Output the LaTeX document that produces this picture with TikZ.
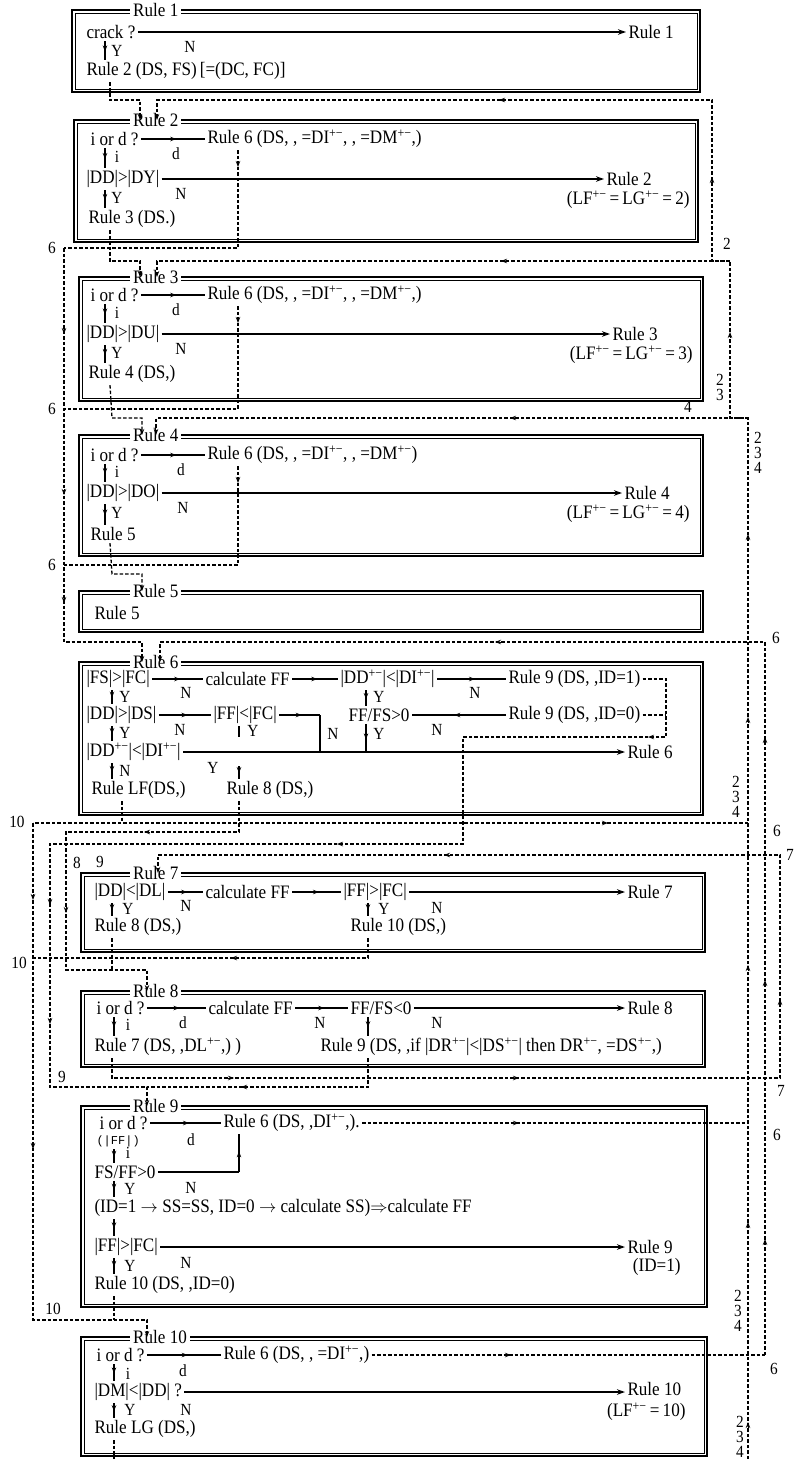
\documentclass[tikz,border=0pt]{standalone}
\usepackage{fontspec}
\setmainfont{Liberation Serif}[FakeStretch=0.9]
\newfontfamily\monof{Liberation Mono}
\usetikzlibrary{arrows.meta,decorations.markings}
\newcommand{\rfs}{\fontsize{19}{21}\selectfont}
\newcommand{\lfs}{\fontsize{17}{18}\selectfont}
\newcommand{\sfsz}{\fontsize{17}{18}\selectfont}
\newcommand{\spm}{\textsuperscript{+−}}
\tikzset{
 boxout/.style={line width=2.2pt},
 boxin/.style={line width=0.8pt},
 ttl/.style={anchor=west, fill=white, inner xsep=3pt, inner ysep=0pt, font=\rfs},
 txt/.style={anchor=west, inner sep=0pt, outer sep=2.5pt, font=\rfs},
 txte/.style={anchor=east, inner sep=0pt, outer sep=2.5pt, font=\rfs},
 lbl/.style={inner sep=0pt, font=\lfs},
 slbl/.style={inner sep=0pt, font=\sfsz},
 flow/.style={line width=1.4pt, -{Stealth[length=8pt,width=5.5pt]}},
 sline/.style={line width=1.3pt},
 mflow/.style={line width=1.3pt, postaction={decorate}, decoration={markings, mark=at position 0.55 with {\arrow{Stealth[length=6pt,width=4.5pt]}}}},
 dline/.style={line width=1.3pt, dash pattern=on 3.5pt off 2pt},
 dentry/.style={dline, -{Stealth[length=6pt,width=4.5pt]}},
 tip/.style={line width=1pt, -{Stealth[length=6pt,width=4.5pt]}},
}
\newcommand{\RuleBox}[6]{%
 \draw[boxout] (#2,#3) rectangle (#4,#5);
 \draw[boxin] ({#2+3},{#3+3}) rectangle ({#4-3},{#5-3});
 \node[ttl] (#1) at (130,#3) {#6};
}
\newcommand{\ArrL}[2]{\draw[tip] ({#1+3},#2) -- ({#1-3},#2);}
\newcommand{\ArrR}[2]{\draw[tip] ({#1-3},#2) -- ({#1+3},#2);}
\newcommand{\ArrU}[2]{\draw[tip] (#1,{#2+3}) -- (#1,{#2-3});}
\newcommand{\ArrD}[2]{\draw[tip] (#1,{#2-3}) -- (#1,{#2+3});}
\begin{document}
\begin{tikzpicture}[x=1pt,y=-1pt]
\useasboundingbox (0,0) rectangle (797,1459);
\fill[white] (0,0) rectangle (797,1459);
\coordinate (X1) at (105,0);
\coordinate (X2) at (112,0);
\coordinate (X3) at (366,0);
\coordinate (X4) at (238,0);
\coordinate (X5) at (110,0);
\coordinate (X6) at (122,0);
\coordinate (X7) at (239,0);
\coordinate (X8) at (114,0);
\coordinate (X9) at (368,0);

% ---------------- Box 1
\RuleBox{B1}{72}{10}{700}{92}{Rule 1}
\node[txt] (n1a) at (84,32) {crack ?};
\node[txt] (n1b) at (626,32) {Rule 1};
\node[txt] (n1c) at (84,71) {Rule 2 (DS, FS)\,[=(DC, FC)]};
\node[lbl] (l1N) at (190,47) {N};
\node[lbl] (l1Y) at (117,51) {Y};
\draw[flow] (n1a.east) -- (n1b.west);
\draw[mflow] (n1a.south -| X1) -- (n1c.north -| X1);

% ---------------- Box 2
\RuleBox{B2}{74}{120}{698}{242}{Rule 2}
\node[txt] (n2a) at (88,139) {i or d ?};
\node[txt] (n2b) at (205,139) {Rule 6 (DS, , =DI\spm, , =DM\spm,)};
\node[txt] (n2c) at (84,179) {|DD|>|DY|};
\node[txt] (n2d) at (604,179) {Rule 2};
\node[txte] (n2e) at (692,200) {(LF\spm\,=\,LG\spm\,=\,2)};
\node[txt] (n2f) at (86,219) {Rule 3 (DS.)};
\node[lbl] (l2d) at (176,154) {d};
\node[lbl] (l2i) at (117,157) {i};
\node[lbl] (l2N) at (181,194) {N};
\node[lbl] (l2Y) at (117,198) {Y};
\draw[mflow] (n2a.east) -- (n2b.west);
\draw[mflow] (n2a.south -| X1) -- (n2c.north -| X1);
\draw[flow] (n2c.east) -- (n2d.west);
\draw[mflow] (n2c.south -| X1) -- (n2f.north -| X1);

% ---------------- Box 3
\RuleBox{B3}{79}{277}{703}{401}{Rule 3}
\node[txt] (n3a) at (88,295) {i or d ?};
\node[txt] (n3b) at (205,295) {Rule 6 (DS, , =DI\spm, , =DM\spm,)};
\node[txt] (n3c) at (84,334) {|DD|>|DU|};
\node[txt] (n3d) at (610,334) {Rule 3};
\node[txte] (n3e) at (695,355) {(LF\spm\,=\,LG\spm\,=\,3)};
\node[txt] (n3f) at (86,374) {Rule 4 (DS,)};
\node[lbl] (l3d) at (176,310) {d};
\node[lbl] (l3i) at (117,313) {i};
\node[lbl] (l3N) at (181,349) {N};
\node[lbl] (l3Y) at (117,353) {Y};
\draw[mflow] (n3a.east) -- (n3b.west);
\draw[mflow] (n3a.south -| X1) -- (n3c.north -| X1);
\draw[flow] (n3c.east) -- (n3d.west);
\draw[mflow] (n3c.south -| X1) -- (n3f.north -| X1);

% ---------------- Box 4
\RuleBox{B4}{79}{435}{703}{556}{Rule 4}
\node[txt] (n4a) at (88,455) {i or d ?};
\node[txt] (n4b) at (205,455) {Rule 6 (DS, , =DI\spm, , =DM\spm)};
\node[txt] (n4c) at (84,493) {|DD|>|DO|};
\node[txt] (n4d) at (622,493) {Rule 4};
\node[txte] (n4e) at (692,514) {(LF\spm\,=\,LG\spm\,=\,4)};
\node[txt] (n4f) at (88,534) {Rule 5};
\node[lbl] (l4d) at (181,470) {d};
\node[lbl] (l4i) at (117,472) {i};
\node[lbl] (l4N) at (183,508) {N};
\node[lbl] (l4Y) at (117,513) {Y};
\draw[mflow] (n4a.east) -- (n4b.west);
\draw[mflow] (n4a.south -| X1) -- (n4c.north -| X1);
\draw[flow] (n4c.east) -- (n4d.west);
\draw[mflow] (n4c.south -| X1) -- (n4f.north -| X1);

% ---------------- Box 5
\RuleBox{B5}{79}{591}{703}{632}{Rule 5}
\node[txt] (n5a) at (92,613) {Rule 5};

% ---------------- Box 6
\RuleBox{B6}{79}{662}{703}{815}{Rule 6}
\node[txt] (n6a) at (84,679) {|FS|>|FC|};
\node[txt] (n6b) at (203,679) {calculate FF};
\node[txt] (n6c) at (338,679) {|DD\spm|<|DI\spm|};
\node[txt] (n6d) at (506,679) {Rule 9 (DS, ,ID=1)};
\node[txt] (n6e) at (84,715) {|DD|>|DS|};
\node[txt] (n6f) at (211,715) {|FF|<|FC|};
\node[txt] (n6g) at (346,715) {FF/FS>0};
\node[txt] (n6h) at (506,715) {Rule 9 (DS, ,ID=0)};
\node[txt] (n6j) at (84,752) {|DD\spm|<|DI\spm|};
\node[txt] (n6k) at (625,752) {Rule 6};
\node[txt] (n6l) at (89,790) {Rule LF(DS,)};
\node[txt] (n6m) at (224,790) {Rule 8 (DS,)};
\node[lbl] (l6N1) at (186,693) {N};
\node[lbl] (l6N2) at (475,693) {N};
\node[lbl] (l6Y1) at (125,697) {Y};
\node[lbl] (l6Y2) at (379,697) {Y};
\node[lbl] (l6N3) at (180,730) {N};
\node[lbl] (l6Y3) at (253,731) {Y};
\node[lbl] (l6N4) at (333,734) {N};
\node[lbl] (l6Y4) at (379,734) {Y};
\node[lbl] (l6N5) at (437,730) {N};
\node[lbl] (l6Y5) at (125,733) {Y};
\node[lbl] (l6Y6) at (213,768) {Y};
\node[lbl] (l6N6) at (125,771) {N};
\coordinate (J6a) at (320,715);
\coordinate (J6b) at (320,752);
\draw[mflow] (n6a.east) -- (n6b.west);
\draw[mflow] (n6b.east) -- (n6c.west);
\draw[mflow] (n6c.east) -- (n6d.west);
\draw[mflow] (n6e.east) -- (n6f.west);
\draw[mflow] (n6h.west) -- (n6g.east);
\draw[mflow] (n6f.east) -- (J6a);
\draw[sline] (J6a) -- (J6b);
\draw[mflow] (n6a.south -| X2) -- (n6e.north -| X2);
\draw[mflow] (n6e.south -| X2) -- (n6j.north -| X2);
\draw[mflow] (n6j.south -| X2) -- (n6l.north -| X2);
\draw[mflow] (n6c.south -| X3) -- (n6g.north -| X3);
\draw[mflow] (n6g.south -| X3) -- (n6j.east -| X3);
\draw[sline] (n6f.south -| X7) -- (239,737);
\draw[mflow] (239,766) -- (n6m.north -| X7);
\draw[flow] (n6j.east) -- (n6k.west);

% ---------------- Box 7
\RuleBox{B7}{81}{873}{705}{952}{Rule 7}
\node[txt] (n7a) at (92,892) {|DD|<|DL|};
\node[txt] (n7b) at (203,892) {calculate FF};
\node[txt] (n7c) at (341,892) {|FF|>|FC|};
\node[txt] (n7d) at (625,892) {Rule 7};
\node[txt] (n7e) at (92,927) {Rule 8 (DS,)};
\node[txt] (n7f) at (348,927) {Rule 10 (DS,)};
\node[lbl] (l7N1) at (186,906) {N};
\node[lbl] (l7N2) at (437,908) {N};
\node[lbl] (l7Y1) at (128,909) {Y};
\node[lbl] (l7Y2) at (384,909) {Y};
\draw[mflow] (n7a.east) -- (n7b.west);
\draw[mflow] (n7b.east) -- (n7c.west);
\draw[flow] (n7c.east) -- (n7d.west);
\draw[mflow] (n7a.south -| X2) -- (n7e.north -| X2);
\draw[mflow] (n7c.south -| X9) -- (n7f.north -| X9);

% ---------------- Box 8
\RuleBox{B8}{81}{991}{705}{1067}{Rule 8}
\node[txt] (n8a) at (94,1008) {i or d ?};
\node[txt] (n8b) at (206,1008) {calculate FF};
\node[txt] (n8c) at (348,1008) {FF/FS<0};
\node[txt] (n8d) at (625,1008) {Rule 8};
\node[txt] (n8e) at (92,1047) {Rule 7 (DS, ,DL\spm,) )};
\node[txt] (n8f) at (318,1047) {Rule 9 (DS, ,if |DR\spm|<|DS\spm| then DR\spm, =DS\spm,)};
\node[lbl] (l8d) at (183,1023) {d};
\node[lbl] (l8N1) at (320,1023) {N};
\node[lbl] (l8N2) at (437,1023) {N};
\node[lbl] (l8i) at (128,1025) {i};
\draw[mflow] (n8a.east) -- (n8b.west);
\draw[mflow] (n8b.east) -- (n8c.west);
\draw[flow] (n8c.east) -- (n8d.west);
\draw[mflow] (n8a.south -| X8) -- (n8e.north -| X8);
\draw[mflow] (n8c.south -| X9) -- (n8f.north -| X9);

% ---------------- Box 9
\RuleBox{B9}{81}{1106}{707}{1307}{Rule 9}
\node[txt] (n9a) at (97,1123) {i or d ?};
\node[txt] (n9b) at (221,1123) {Rule 6 (DS, ,DI\spm,).};
\node[txt, font=\monof\fontsize{12}{13}\selectfont] (n9g) at (94,1141) {(|FF|)};
\node[txt] (n9c) at (92,1172) {FS/FF>0};
\node[txt] (n9d) at (92,1208) {(ID=1 $\rightarrow$ SS=SS, ID=0 $\rightarrow$ calculate SS)$\Rightarrow$calculate FF};
\node[txt] (n9e) at (92,1247) {|FF|>|FC|};
\node[txt] (n9f) at (625,1247) {Rule 9};
\node[txte] (n9h) at (683,1267) {(ID=1)};
\node[txt] (n9i) at (92,1285) {Rule 10 (DS, ,ID=0)};
\node[lbl] (l9d) at (191,1140) {d};
\node[lbl] (l9i) at (128,1153) {i};
\node[lbl] (l9N1) at (191,1188) {N};
\node[lbl] (l9Y1) at (130,1189) {Y};
\node[lbl] (l9N2) at (186,1263) {N};
\node[lbl] (l9Y2) at (130,1266) {Y};
\coordinate (J9a) at (239,1172);
\draw[mflow] (n9a.east) -- (n9b.west);
\draw[mflow] (n9g.south -| X8) -- (n9c.north -| X8);
\draw[sline] (n9c.east) -- (J9a);
\draw[mflow] (J9a) -- (n9b.south -| X7);
\draw[mflow] (n9c.south -| X8) -- (n9d.north -| X8);
\draw[mflow] (n9d.south -| X8) -- (n9e.north -| X8);
\draw[flow] (n9e.east) -- (n9f.west);
\draw[mflow] (n9e.south -| X8) -- (n9i.north -| X8);

% ---------------- Box 10
\RuleBox{B10}{81}{1337}{707}{1456}{Rule 10}
\node[txt] (n10a) at (94,1355) {i or d ?};
\node[txt] (n10b) at (221,1355) {Rule 6 (DS, , =DI\spm,)};
\node[txt] (n10c) at (92,1392) {|DM|<|DD| ?};
\node[txt] (n10d) at (625,1389) {Rule 10};
\node[txte] (n10f) at (688,1412) {(LF\spm\,=\,10)};
\node[txt] (n10e) at (92,1429) {Rule LG (DS,)};
\node[lbl] (l10d) at (183,1371) {d};
\node[lbl] (l10i) at (128,1374) {i};
\node[lbl] (l10N) at (186,1410) {N};
\node[lbl] (l10Y) at (130,1410) {Y};
\draw[mflow] (n10a.east) -- (n10b.west);
\draw[mflow] (n10a.south -| X8) -- (n10c.north -| X8);
\draw[flow] (n10c.east) -- (n10d.west |- n10c.east);
\draw[mflow] (n10c.south -| X8) -- (n10e.north -| X8);

% ---------------- entry points
\coordinate (e2L) at (140,120); \coordinate (e2R) at (157,120);
\coordinate (e3L) at (140,277); \coordinate (e3R) at (157,277);
\coordinate (e4L) at (142,435); \coordinate (e4R) at (156,435);
\coordinate (e5L) at (142,591);
\coordinate (e6L) at (142,662); \coordinate (e6R) at (160,662);
\coordinate (e7) at (158,873);
\coordinate (e8) at (147,991);
\coordinate (e9) at (147,1106);
\coordinate (e10) at (147,1337);
\coordinate (V4end) at (748,1459);
\coordinate (V6end) at (765,1355);
\coordinate (LGend) at (114,1459);

% ---------------- forward dashed connectors
\draw[dentry] (n1c.south -| X5) -- (110,100) -- (140,100) -- (e2L);
\draw[dentry] (n2f.south -| X5) -- (110,261) -- (140,261) -- (e3L);
\draw[dentry] (n3f.south -| X5) -- (112,418) -- (142,418) -- (e4L);
\draw[dentry] (n4f.south -| X5) -- (112,574) -- (142,574) -- (e5L);

% ---------------- right loops 2,3,4
\draw[dentry] (730,261) -- (712,261) -- (712,100) -- (157,100) -- (e2R);
\draw[dentry] (748,418) -- (730,418) -- (730,261) -- (157,261) -- (e3R);
\draw[dentry] (V4end) -- (748,418) -- (156,418) -- (e4R);
\ArrU{712}{180} \ArrL{502}{100}
\ArrU{730}{335} \ArrL{504}{261}
\ArrL{513}{418}
\ArrU{748}{537} \ArrU{748}{720} \ArrU{748}{968} \ArrU{748}{1225} \ArrU{748}{1425}

% ---------------- left loop 6
\draw[dline] (n2b.south -| X4) -- (238,248) -- (64,248);
\draw[dline] (n3b.south -| X4) -- (238,409) -- (64,409);
\draw[dline] (n4b.south -| X4) -- (238,565) -- (64,565);
\draw[dentry] (64,248) -- (64,642) -- (142,642) -- (e6L);
\ArrD{238}{164} \ArrD{238}{320} \ArrD{238}{480}
\ArrD{64}{331} \ArrD{64}{492} \ArrD{64}{600}

% ---------------- right loop 6
\draw[dentry] (V6end) -- (765,642) -- (160,642) -- (e6R);
\draw[dline] (n10b.east) -- (V6end);
\draw[dline] (n9b.east) -- (748,1123);
\ArrL{498}{642}
\ArrU{765}{740} \ArrU{765}{983} \ArrU{765}{1242}
\ArrR{516}{1123} \ArrR{508}{1355}

% ---------------- Rule LF, Rule 10 loop
\draw[dline] (n6l.south -| X6) -- (122,823);
\draw[dline] (748,823) -- (33,823);
\draw[dentry] (33,823) -- (33,1320) -- (147,1320) -- (e10);
\draw[dline] (n7f.south -| X9) -- (368,958) -- (33,958);
\draw[dline] (n9i.south -| X8) -- (114,1320);
\ArrR{605}{823} \ArrL{234}{958}
\ArrD{33}{897} \ArrD{33}{1146}

% ---------------- Rule 8 loop
\draw[dentry] (n6m.south -| X7) -- (239,832) -- (66,832) -- (66,970) -- (147,970) -- (e8);
\draw[dline] (n7e.south -| X2) -- (112,970);
\ArrL{147}{832} \ArrD{66}{910}

% ---------------- Rule 9 loop
\draw[dline] (n6h.east) -- (666,715);
\draw[dentry] (n6d.east) -- (666,679) -- (666,737) -- (463,737) -- (463,844) -- (50,844) -- (50,1087) -- (147,1087) -- (e9);
\draw[dline] (n8f.south -| X9) -- (368,1087) -- (147,1087);
\ArrL{651}{737} \ArrL{340}{844} \ArrL{244}{1087}
\ArrD{50}{902} \ArrD{50}{1021}

% ---------------- Rule 7 loop
\draw[dentry] (n8e.south -| X2) -- (112,1078) -- (780,1078) -- (780,855) -- (158,855) -- (e7);
\ArrR{231}{1078} \ArrR{516}{1078} \ArrU{780}{1002} \ArrL{447}{855}

% ---------------- Rule LG
\draw[dline] (n10e.south -| X8) -- (LGend);

% ---------------- side labels
\node[slbl] (s1) at (727,244) {2};
\node[slbl] (s2) at (720,380) {2};
\node[slbl] (s3) at (720,395) {3};
\node[slbl] (s4) at (688,407) {4};
\node[slbl] (s5) at (758,438) {2};
\node[slbl] (s6) at (758,453) {3};
\node[slbl] (s7) at (758,468) {4};
\node[slbl] (s8) at (776,638) {6};
\node[slbl] (s9) at (736,782) {2};
\node[slbl] (s10) at (736,797) {3};
\node[slbl] (s11) at (736,812) {4};
\node[slbl] (s12) at (777,831) {6};
\node[slbl] (s13) at (790,855) {7};
\node[slbl] (s14) at (781,1091) {7};
\node[slbl] (s15) at (777,1135) {6};
\node[slbl] (s16) at (738,1296) {2};
\node[slbl] (s17) at (738,1311) {3};
\node[slbl] (s18) at (738,1326) {4};
\node[slbl] (s19) at (774,1369) {6};
\node[slbl] (s20) at (740,1422) {2};
\node[slbl] (s21) at (740,1437) {3};
\node[slbl] (s22) at (740,1452) {4};
\node[slbl] (t1) at (52,248) {6};
\node[slbl] (t2) at (52,409) {6};
\node[slbl] (t3) at (52,565) {6};
\node[slbl] (t4) at (17,822) {10};
\node[slbl] (t5) at (19,963) {10};
\node[slbl] (t6) at (77,863) {8};
\node[slbl] (t7) at (100,862) {9};
\node[slbl] (t8) at (62,1077) {9};
\node[slbl] (t9) at (53,1309) {10};
\end{tikzpicture}
\end{document}
